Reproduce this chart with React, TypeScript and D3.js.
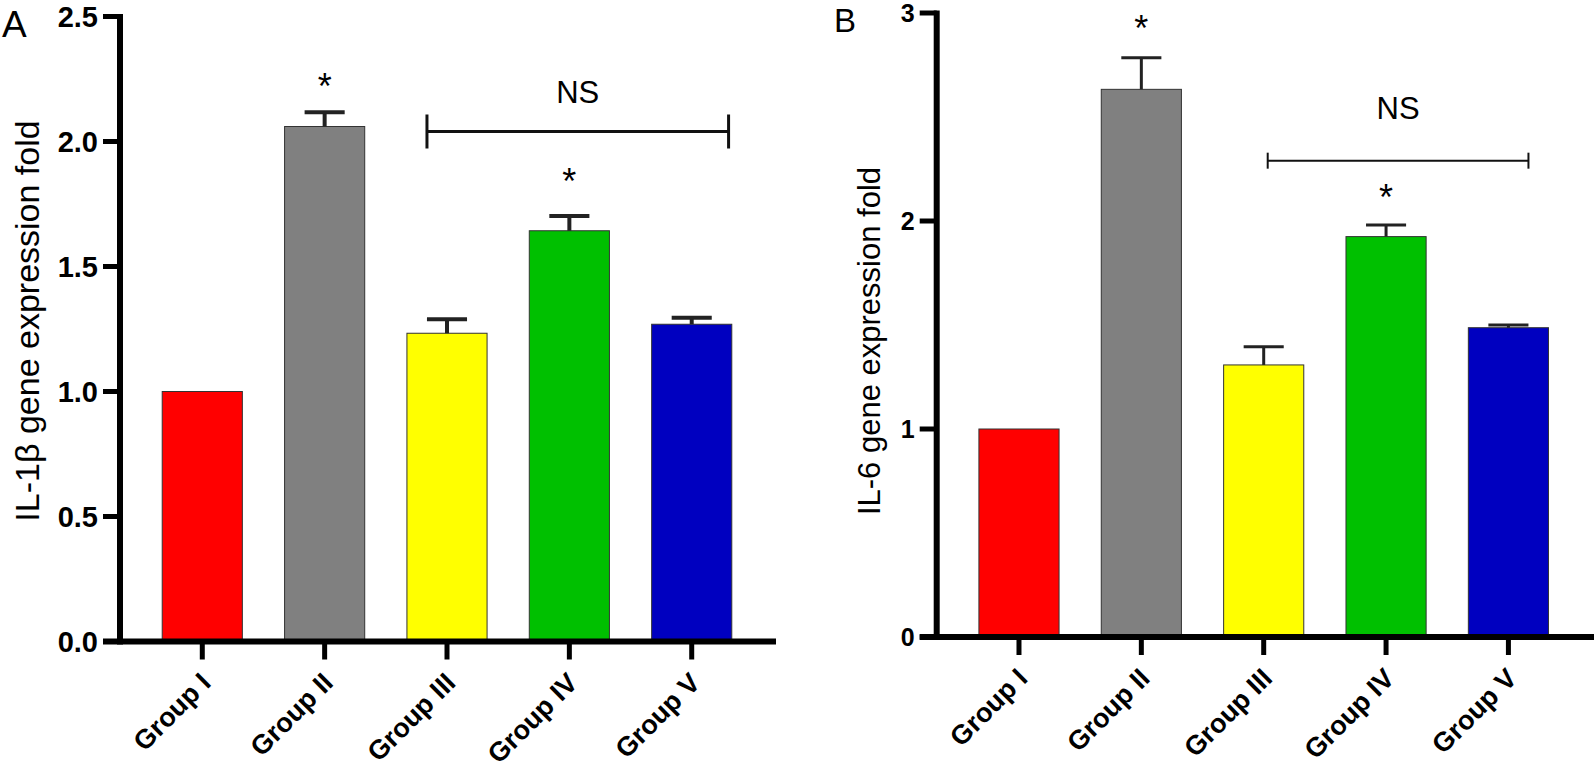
import React, { useEffect, useRef } from "react";
import * as d3 from "d3";

const groups = ["Group I", "Group II", "Group III", "Group IV", "Group V"];
const barColors = ["#ff0000", "#808080", "#ffff00", "#00c000", "#0000c0"];

// IL-1beta panel
const il1bMean = [1.0, 2.06, 1.233, 1.643, 1.269];
const il1bErr = [0, 0.057, 0.056, 0.059, 0.026];
const il1bTicks = [0, 0.5, 1.0, 1.5, 2.0, 2.5];
const il1bStars = [null, 2.17, null, 1.79, null];

// IL-6 panel
const il6Mean = [1.0, 2.633, 1.308, 1.925, 1.487];
const il6Err = [0, 0.152, 0.088, 0.056, 0.013];
const il6Ticks = [0, 1, 2, 3];
const il6Stars = [null, 2.865, null, 2.053, null];

const SANS = "'Liberation Sans', Arial, Helvetica, sans-serif";

export default function App() {
  const ref = useRef<SVGSVGElement>(null);

  useEffect(() => {
    document.body.style.margin = "0";
    const svg = d3.select(ref.current);
    svg.selectAll("*").remove();

    const panels = [
      {
        letter: "A", letterX: 2, letterY: 37, letterSize: 37,
        axisX: 120, y0: 641.5, y1: 16.5, max: 2.5, axisEnd: 776,
        means: il1bMean, errs: il1bErr, ticks: il1bTicks, stars: il1bStars,
        fmt: d3.format(".1f"), tickSize: 29,
        label: "IL-1β gene expression fold", labelX: 39, labelY: 321, labelSize: 34,
        errW: 4, ns: { from: 0.25, to: 0.96, y: 2.04, text: 2.155, w: 3, end: 17 },
      },
      {
        letter: "B", letterX: 834, letterY: 32, letterSize: 33,
        axisX: 936.7, y0: 637, y1: 13, max: 3, axisEnd: 1600,
        means: il6Mean, errs: il6Err, ticks: il6Ticks, stars: il6Stars,
        fmt: d3.format("d"), tickSize: 25,
        label: "IL-6 gene expression fold", labelX: 880, labelY: 341, labelSize: 31,
        errW: 3, ns: { from: 0.55, to: 0.75, y: 2.29, text: 2.489, w: 2, end: 8 },
      },
    ];

    panels.forEach((p) => {
      const g = svg.append("g");
      const y = d3.scaleLinear().domain([0, p.max]).range([p.y0, p.y1]);
      const x = d3
        .scaleBand()
        .domain(groups)
        .range([p.axisX, p.axisX + 654])
        .paddingInner(0.345)
        .paddingOuter(0.345);
      const bw = x.bandwidth();

      // bars
      g.selectAll("rect.bar")
        .data(groups)
        .enter()
        .append("rect")
        .attr("class", "bar")
        .attr("x", (d) => x(d)!)
        .attr("width", bw)
        .attr("y", (d, i) => y(p.means[i]))
        .attr("height", (d, i) => y(0) - y(p.means[i]))
        .attr("fill", (d, i) => barColors[i])
        .attr("stroke", "#333")
        .attr("stroke-width", 1);

      // error bars (upper only)
      groups.forEach((d, i) => {
        if (!p.errs[i]) return;
        const cx = x(d)! + bw / 2;
        const top = y(p.means[i] + p.errs[i]);
        g.append("line")
          .attr("x1", cx).attr("x2", cx)
          .attr("y1", y(p.means[i])).attr("y2", top)
          .attr("stroke", "#222").attr("stroke-width", p.errW);
        g.append("line")
          .attr("x1", cx - bw / 4).attr("x2", cx + bw / 4)
          .attr("y1", top).attr("y2", top)
          .attr("stroke", "#222").attr("stroke-width", p.errW);
      });

      // stars
      groups.forEach((d, i) => {
        if (p.stars[i] == null) return;
        g.append("text")
          .attr("x", x(d)! + bw / 2)
          .attr("y", y(p.stars[i] as number))
          .attr("text-anchor", "middle")
          .attr("font-family", SANS)
          .attr("font-size", 36)
          .text("*");
      });

      // NS bracket
      const bx1 = x("Group III")! + p.ns.from * bw;
      const bx2 = x("Group V")! + p.ns.to * bw;
      const by = y(p.ns.y);
      const br = g.append("g").attr("stroke", "#111").attr("stroke-width", p.ns.w);
      br.append("line").attr("x1", bx1).attr("x2", bx2).attr("y1", by).attr("y2", by);
      br.append("line").attr("x1", bx1).attr("x2", bx1).attr("y1", by - p.ns.end).attr("y2", by + p.ns.end);
      br.append("line").attr("x1", bx2).attr("x2", bx2).attr("y1", by - p.ns.end).attr("y2", by + p.ns.end);
      g.append("text")
        .attr("x", (bx1 + bx2) / 2)
        .attr("y", y(p.ns.text))
        .attr("text-anchor", "middle")
        .attr("font-family", SANS)
        .attr("font-size", 31)
        .text("NS");

      // y axis
      g.append("line")
        .attr("x1", p.axisX).attr("x2", p.axisX)
        .attr("y1", y(p.max) - 2.5).attr("y2", y(0) + 3)
        .attr("stroke", "#000").attr("stroke-width", 6);
      p.ticks.forEach((t) => {
        g.append("line")
          .attr("x1", p.axisX - 17).attr("x2", p.axisX)
          .attr("y1", y(t)).attr("y2", y(t))
          .attr("stroke", "#000").attr("stroke-width", 5);
        g.append("text")
          .attr("x", p.axisX - 22)
          .attr("y", y(t))
          .attr("dy", "0.36em")
          .attr("text-anchor", "end")
          .attr("font-family", SANS)
          .attr("font-weight", "bold")
          .attr("font-size", p.tickSize)
          .text(p.fmt(t));
      });

      // x axis
      g.append("line")
        .attr("x1", p.axisX - 17).attr("x2", p.axisEnd)
        .attr("y1", y(0)).attr("y2", y(0))
        .attr("stroke", "#000").attr("stroke-width", 6);
      groups.forEach((d) => {
        const cx = x(d)! + bw / 2;
        g.append("line")
          .attr("x1", cx).attr("x2", cx)
          .attr("y1", y(0)).attr("y2", y(0) + 18)
          .attr("stroke", "#000").attr("stroke-width", 5);
        g.append("text")
          .attr("transform", `translate(${cx + 10},${y(0) + 43}) rotate(-45)`)
          .attr("text-anchor", "end")
          .attr("font-family", SANS)
          .attr("font-weight", "bold")
          .attr("font-size", 27)
          .text(d);
      });

      // y label
      g.append("text")
        .attr("transform", `translate(${p.labelX},${p.labelY}) rotate(-90)`)
        .attr("text-anchor", "middle")
        .attr("font-family", SANS)
        .attr("font-size", p.labelSize)
        .text(p.label);

      // panel letter
      g.append("text")
        .attr("x", p.letterX)
        .attr("y", p.letterY)
        .attr("font-family", SANS)
        .attr("font-size", p.letterSize)
        .text(p.letter);
    });
  }, []);

  return (
    <div id="chartArea">
      <svg ref={ref} width={1594} height={772} style={{ display: "block", background: "#fff" }}></svg>
    </div>
  );
}
